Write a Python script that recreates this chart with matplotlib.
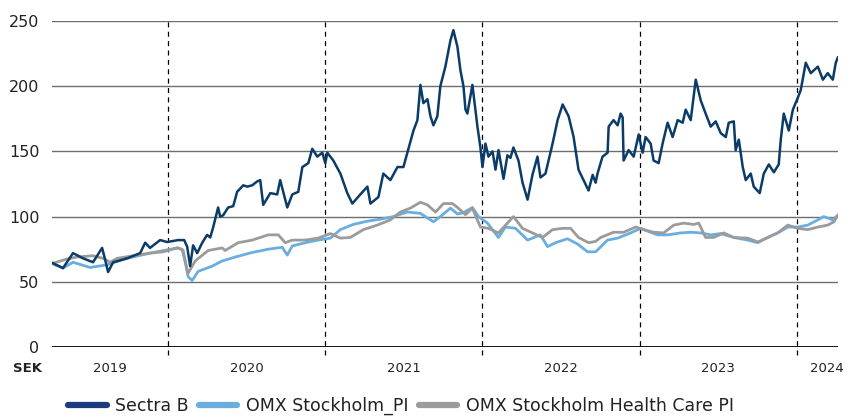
import matplotlib
matplotlib.use("Agg")
import matplotlib.pyplot as plt
from matplotlib.lines import Line2D

# time axis in decimal years
sectra_t = [2019.261, 2019.331, 2019.395, 2019.459, 2019.522, 2019.580, 2019.599, 2019.618,
            2019.650, 2019.739, 2019.822, 2019.854, 2019.885, 2019.949, 2019.994, 2020.064,
            2020.102, 2020.121, 2020.140, 2020.159, 2020.185, 2020.217, 2020.248, 2020.268,
            2020.287, 2020.318, 2020.331, 2020.350, 2020.382, 2020.414, 2020.439, 2020.478,
            2020.503, 2020.535, 2020.567, 2020.586, 2020.605, 2020.650, 2020.694, 2020.713,
            2020.758, 2020.790, 2020.828, 2020.854, 2020.892, 2020.917, 2020.949, 2020.981,
            2021.000, 2021.013, 2021.051, 2021.096, 2021.140, 2021.172, 2021.223, 2021.268,
            2021.287, 2021.338, 2021.369, 2021.414, 2021.459, 2021.497, 2021.522, 2021.561,
            2021.586, 2021.605, 2021.624, 2021.650, 2021.669, 2021.688, 2021.713, 2021.732,
            2021.764, 2021.796, 2021.815, 2021.841, 2021.860, 2021.879, 2021.892, 2021.904,
            2021.936, 2021.968, 2021.987, 2022.000, 2022.019, 2022.038, 2022.064, 2022.083,
            2022.102, 2022.134, 2022.159, 2022.178, 2022.197, 2022.229, 2022.255, 2022.287,
            2022.318, 2022.350, 2022.369, 2022.401, 2022.446, 2022.478, 2022.510, 2022.548,
            2022.580, 2022.611, 2022.643, 2022.675, 2022.701, 2022.720, 2022.732, 2022.764,
            2022.796, 2022.803, 2022.834, 2022.860, 2022.879, 2022.892, 2022.898, 2022.930,
            2022.962, 2022.994, 2023.019, 2023.038, 2023.070, 2023.089, 2023.121, 2023.146,
            2023.178, 2023.210, 2023.242, 2023.274, 2023.293, 2023.325, 2023.357, 2023.389,
            2023.420, 2023.452, 2023.484, 2023.516, 2023.548, 2023.567, 2023.599, 2023.611,
            2023.631, 2023.656, 2023.675, 2023.707, 2023.726, 2023.764, 2023.790, 2023.822,
            2023.854, 2023.885, 2023.898, 2023.917, 2023.949, 2023.975, 2024.006, 2024.025,
            2024.057, 2024.089, 2024.134, 2024.166, 2024.197, 2024.229, 2024.248, 2024.261]
sectra_v = [64.6, 60.5, 72, 68, 65, 76, 67, 57.5,
            65, 68, 72, 80, 76, 82, 80.5, 82,
            82, 77, 62, 78, 72, 80, 86, 84,
            92, 107, 100, 101, 107, 108, 119, 124,
            123, 124, 127, 128, 109, 118, 117, 128,
            107, 117, 119, 138, 141, 152, 146, 149,
            141, 149, 143, 133, 118, 110, 117, 123,
            110, 115, 133, 128, 138, 138, 149, 166,
            174, 201, 187, 190, 177, 170, 177, 200,
            215, 235, 243, 230, 212, 200, 182, 179,
            201, 169, 153, 138, 156, 146, 150, 136,
            151, 129, 147, 145, 153, 143, 126, 113,
            132, 146, 130, 133, 156, 174, 186, 177,
            161, 136, 128, 120, 132, 126, 133, 146,
            149, 169, 174, 170, 179, 176, 143, 151,
            146, 163, 149, 161, 156, 143, 141, 156,
            172, 161, 174, 172, 182, 174, 205, 189,
            179, 169, 173, 164, 161, 172, 173, 151,
            159, 138, 128, 133, 123, 118, 133, 140,
            134, 140, 159, 179, 166, 182, 191, 197,
            218, 210, 215, 205, 210, 205, 218, 222]

omx_t = [2019.261, 2019.331, 2019.395, 2019.503, 2019.611, 2019.739, 2019.885, 2019.994,
         2020.064, 2020.096, 2020.127, 2020.153, 2020.191, 2020.280, 2020.344, 2020.427,
         2020.535, 2020.637, 2020.726, 2020.758, 2020.790, 2020.873, 2020.955, 2021.032,
         2021.096, 2021.178, 2021.268, 2021.350, 2021.433, 2021.522, 2021.605, 2021.688,
         2021.732, 2021.796, 2021.841, 2021.879, 2021.936, 2021.975, 2022.032, 2022.102,
         2022.146, 2022.210, 2022.287, 2022.369, 2022.414, 2022.465, 2022.541, 2022.605,
         2022.669, 2022.720, 2022.796, 2022.860, 2022.943, 2023.006, 2023.070, 2023.115,
         2023.178, 2023.261, 2023.325, 2023.389, 2023.452, 2023.516, 2023.599, 2023.688,
         2023.752, 2023.815, 2023.879, 2023.943, 2024.006, 2024.070, 2024.134, 2024.172,
         2024.229, 2024.261]
omx_v = [64, 60.5, 65, 61, 63, 68, 72, 74.5,
         76, 74, 54, 51, 58, 62, 66, 69,
         72.5, 75, 76.5, 70.5, 77.5, 80, 82, 83.5,
         90, 94, 96.5, 98, 100, 103.5, 102.5, 96,
         100, 106.5, 102, 103, 107, 100, 95, 84,
         92, 91, 82, 86, 77, 80, 83, 79,
         73, 73, 82, 83.5, 87.5, 91, 88, 86,
         86, 87.5, 88, 87.5, 86, 87, 84, 82,
         80, 84, 87.5, 92, 92, 93.5, 97.5, 100,
         97.5, 101]

hc_t = [2019.261, 2019.357, 2019.420, 2019.522, 2019.586, 2019.631, 2019.675, 2019.803,
        2019.885, 2019.968, 2020.057, 2020.089, 2020.127, 2020.172, 2020.255, 2020.344,
        2020.363, 2020.446, 2020.535, 2020.637, 2020.701, 2020.745, 2020.790, 2020.873,
        2020.955, 2021.032, 2021.096, 2021.159, 2021.242, 2021.331, 2021.414, 2021.478,
        2021.541, 2021.605, 2021.650, 2021.701, 2021.752, 2021.809, 2021.841, 2021.892,
        2021.936, 2021.987, 2022.038, 2022.102, 2022.197, 2022.255, 2022.318, 2022.382,
        2022.446, 2022.510, 2022.561, 2022.611, 2022.675, 2022.720, 2022.752, 2022.834,
        2022.898, 2022.975, 2023.025, 2023.089, 2023.153, 2023.217, 2023.280, 2023.344,
        2023.376, 2023.420, 2023.471, 2023.535, 2023.599, 2023.688, 2023.752, 2023.815,
        2023.879, 2023.943, 2024.006, 2024.070, 2024.134, 2024.197, 2024.236, 2024.261]
hc_v = [64, 67.5, 69, 70, 68, 65, 68, 70.5,
        72, 73, 76, 75, 56.5, 66, 74, 76,
        74, 80, 82, 86, 86, 80, 82, 82,
        83.5, 87, 83.5, 84, 90, 93.5, 97.5, 103.5,
        106.5, 111, 109, 103.5, 110, 110, 107, 101.5,
        106.5, 92, 91, 87.5, 100, 91, 87.5, 84,
        90, 91, 91, 84, 80, 81, 84, 88,
        88, 92, 90, 88, 87.5, 93.5, 95, 94,
        95, 84, 84, 87.5, 84, 83.5, 80.5, 84,
        87.5, 93.5, 91, 90, 92, 93.5, 96, 101]

years = [2019, 2020, 2021, 2022, 2023, 2024]
year_lines = [2020, 2021, 2022, 2023, 2024]
y_ticks = [0, 50, 100, 150, 200, 250]

c_sectra = "#0b3c68"
c_omx = "#6aaee0"
c_hc = "#9b9b9b"

plt.rcParams["font.family"] = "DejaVu Sans"

fig = plt.figure(figsize=(8.48, 4.19), dpi=100)
ax = fig.add_axes([0.0613, 0.1718, 0.9267, 0.7781])

x0, x1 = sectra_t[0], sectra_t[-1]
ax.set_xlim(x0, x1)
ax.set_ylim(0, 250)

for y in y_ticks[1:]:
    ax.axhline(y, color="#6e6e6e", lw=1.0, zorder=1)
ax.axhline(0, color="black", lw=1.3, zorder=1)

for xl in year_lines:
    ax.axvline(xl, ymin=-0.025, ymax=1, color="black", lw=0.9,
               ls=(0, (4, 3.5)), clip_on=False, zorder=1)

ax.plot(hc_t, hc_v, color=c_hc, lw=2.0, zorder=3)
ax.plot(omx_t, omx_v, color=c_omx, lw=2.0, zorder=2)
ax.plot(sectra_t, sectra_v, color=c_sectra, lw=1.8, zorder=4)

for s in ax.spines.values():
    s.set_visible(False)

ax.set_yticks(y_ticks)
ax.set_yticklabels([str(v) for v in y_ticks], fontsize=11.5, color="#222222")
ax.tick_params(axis="y", length=0, pad=9)
ax.set_xticks([])

# year labels centred in each year span
for yr in years:
    a = max(yr, x0)
    b = min(yr + 1, x1)
    xc = (a + b) / 2
    if yr == 2024:
        xc = b - 0.07
    ax.text(xc, -0.065, str(yr), transform=ax.get_xaxis_transform(),
            ha="center", va="center", fontsize=9.5, color="#222222")

fig.text(28 / 848, 1 - 368 / 419, "SEK", ha="center", va="center",
         fontsize=9.5, color="#222222", fontweight="bold")

handles = [Line2D([], [], color="#1c3a80", lw=4.5, solid_capstyle="round"),
           Line2D([], [], color=c_omx, lw=4.5, solid_capstyle="round"),
           Line2D([], [], color=c_hc, lw=4.5, solid_capstyle="round")]
labels = ["Sectra B", "OMX Stockholm_PI", "OMX Stockholm Health Care PI"]
fig.legend(handles, labels, loc="center", bbox_to_anchor=(0.473, 0.031), ncol=3,
           frameon=False, fontsize=12.5, handlelength=2.2, handletextpad=0.5,
           columnspacing=0.6, labelcolor="#222222")

fig.savefig("out.png", dpi=100)
